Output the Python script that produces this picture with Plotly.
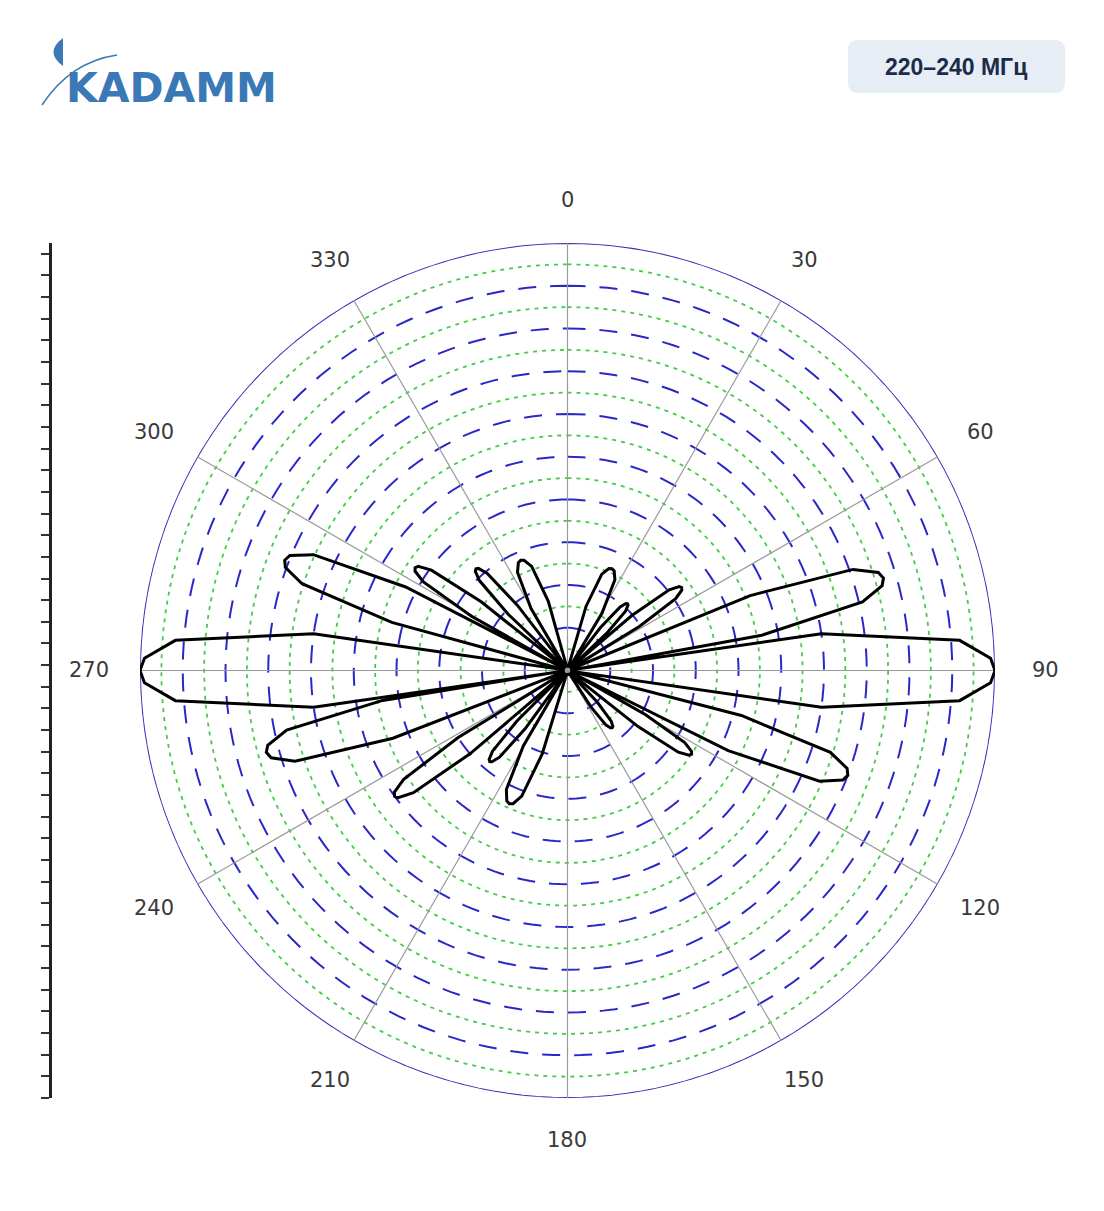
import math
import plotly.graph_objects as go

# Lobe readings from picture (compass angle deg, relative peak, half-width deg)
LOBE_ANGLES = [23.6, 42, 54, 73.7, 90, 110.5, 124, 142, 203.6, 220.5, 234, 254.8, 270, 291.3, 304, 318, 337]
LOBE_PEAKS  = [0.26, 0.21, 0.33, 0.77, 1.0, 0.70, 0.35, 0.17, 0.34, 0.28, 0.50, 0.73, 1.0, 0.71, 0.43, 0.32, 0.28]
LOBE_WIDTHS = [10, 6, 6, 8, 11, 8, 6, 7, 9, 6, 6, 8, 11, 8, 6, 6, 10]
ANGLE_TICKS = list(range(0, 360, 30))
ANGLE_LABELS = [str(a) for a in ANGLE_TICKS]

PROFILE_OFF = [-1, -0.75, -0.4, -0.15, 0, 0.15, 0.4, 0.75, 1]
PROFILE_R = [0.0, 0.6, 0.92, 0.99, 1.0, 0.99, 0.92, 0.6, 0.0]

theta, r = [], []
for c, a, w in zip(LOBE_ANGLES, LOBE_PEAKS, LOBE_WIDTHS):
    for o, p in zip(PROFILE_OFF, PROFILE_R):
        theta.append(c + o * w)
        r.append(max(a * p, 0.01))
theta.append(theta[0]); r.append(r[0])

W, H = 1104, 1211
OX, OY = 8, 8  # page body margin
def px(x): return (x - OX) / W
def py(y): return 1 - (y - OY) / H

fig = go.Figure()
circ = list(range(0, 361, 2))
for i in range(1, 21):
    rv = i / 20
    if i == 20:
        ln = dict(color="#3030b8", width=2)
    elif i % 2 == 0:
        ln = dict(color="#2828c8", width=2, dash="18px,14px")
    else:
        ln = dict(color="#44cc44", width=1.8, dash="4px,5px")
    fig.add_trace(go.Scatterpolar(theta=circ, r=[rv]*len(circ), mode="lines",
                                  line=ln, hoverinfo="skip", showlegend=False))
for ang in range(0, 180, 30):
    fig.add_trace(go.Scatterpolar(theta=[ang, ang + 180], r=[1, 1], mode="lines",
                                  line=dict(color="#999999", width=1.2), hoverinfo="skip", showlegend=False))

fig.add_trace(go.Scatterpolar(theta=theta, r=r, mode="lines",
                              line=dict(color="black", width=3), showlegend=False))

fig.add_trace(go.Scatter(x=[0.5], y=[20], mode="markers", marker=dict(opacity=0),
                         hoverinfo="skip", showlegend=False, xaxis="x", yaxis="y"))

y0, y1 = py(1098), py(243)
fig.update_layout(
    width=W, height=H, margin=dict(l=0, r=0, t=0, b=0),
    paper_bgcolor="white", plot_bgcolor="white",
    polar=dict(
        domain=dict(x=[px(140), px(995)], y=[y0, y1]),
        bgcolor="white",
        angularaxis=dict(rotation=90, direction="clockwise", showticklabels=False,
                         showgrid=False, showline=False, ticks=""),
        radialaxis=dict(range=[0, 1], showgrid=False, showline=False, showticklabels=False, ticks=""),
    ),
    xaxis=dict(domain=[px(52), px(54)], visible=False, range=[0, 1]),
    yaxis=dict(domain=[y0, y1], anchor="x", range=[0, 39.5], dtick=1, showline=True,
               linecolor="#222", linewidth=3, ticks="outside", ticklen=8, tickwidth=2,
               tickcolor="#333", showticklabels=False, showgrid=False, zeroline=False),
)

cx, cy = 567, 670
for a, lab in zip(ANGLE_TICKS, ANGLE_LABELS):
    R = 470 + 8 * abs(math.sin(math.radians(a)))
    x = cx + R * math.sin(math.radians(a))
    y = cy - R * math.cos(math.radians(a))
    fig.add_annotation(x=px(x), y=py(y), xref="paper", yref="paper", xanchor="center", yanchor="middle",
                       text=lab, showarrow=False, font=dict(family="DejaVu Sans", size=21, color="#3a3a3a"))

# logo
fig.add_shape(type="path", xref="paper", yref="paper",
              path=f"M {px(63)},{py(38)} Q {px(44)},{py(52)} {px(63)},{py(66)} Z",
              fillcolor="#3b78b6", line=dict(width=0))
fig.add_shape(type="path", xref="paper", yref="paper",
              path=f"M {px(42)},{py(105)} Q {px(70)},{py(62)} {px(117)},{py(55)}",
              line=dict(color="#3b78b6", width=1.5))
fig.add_annotation(x=px(64), y=py(88), xref="paper", yref="paper", xanchor="left", yanchor="middle",
                   text="<b>KADAMM</b>", showarrow=False,
                   font=dict(family="DejaVu Sans", size=41, color="#3b78b6"))

# badge (rounded)
bx0, bx1, by0, by1, rr = 848, 1065, 40, 93, 10
path = (f"M {px(bx0+rr)},{py(by0)} L {px(bx1-rr)},{py(by0)} Q {px(bx1)},{py(by0)} {px(bx1)},{py(by0+rr)} "
        f"L {px(bx1)},{py(by1-rr)} Q {px(bx1)},{py(by1)} {px(bx1-rr)},{py(by1)} "
        f"L {px(bx0+rr)},{py(by1)} Q {px(bx0)},{py(by1)} {px(bx0)},{py(by1-rr)} "
        f"L {px(bx0)},{py(by0+rr)} Q {px(bx0)},{py(by0)} {px(bx0+rr)},{py(by0)} Z")
fig.add_shape(type="path", xref="paper", yref="paper", path=path,
              fillcolor="#e6edf5", line=dict(width=0), layer="below")
fig.add_annotation(x=px(956), y=py(67), xref="paper", yref="paper", xanchor="center", yanchor="middle",
                   text="<b>220–240 МГц</b>", showarrow=False,
                   font=dict(family="Liberation Sans", size=23, color="#1c2b4a"))

fig.write_html("out.html")
